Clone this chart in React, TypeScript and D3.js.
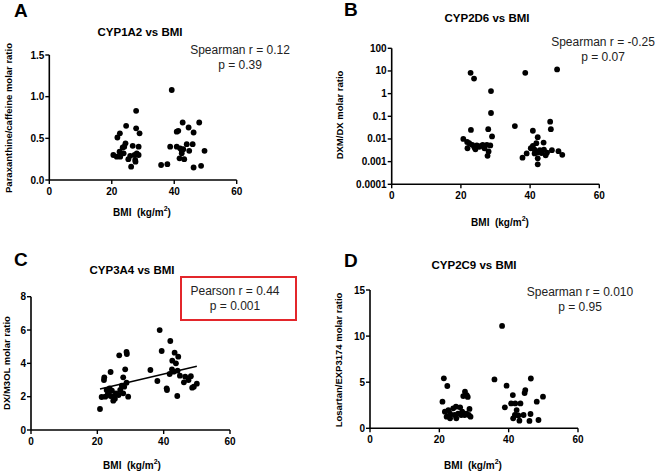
import React from "react";
import * as d3 from "d3";

// ---------- data ----------
const xTicks = [0, 20, 40, 60];

const aBmi = [27.8, 24.6, 27.8, 22.6, 21.8, 28.9, 24.4, 24.0, 23.5, 26.7, 28.6, 20.5, 21.6, 22.7, 22.5, 23.8, 25.3, 26.2, 27.5, 27.3, 28.0, 28.6, 27.6, 25.9,
  39.2, 35.8, 37.8, 38.7, 40.8, 41.3, 42.7, 44.6, 46.2, 48.0, 40.8, 41.9, 42.4, 42.4, 44.0, 45.9, 44.8, 41.7, 43.2, 46.2, 48.6, 49.7, 42.9];
const aVal = [0.83, 0.65, 0.62, 0.56, 0.51, 0.56, 0.44, 0.40, 0.39, 0.41, 0.40, 0.30, 0.28, 0.28, 0.34, 0.32, 0.25, 0.16, 0.24, 0.30, 0.32, 0.30, 0.22, 0.29,
  1.08, 0.18, 0.19, 0.40, 0.58, 0.59, 0.69, 0.63, 0.57, 0.69, 0.40, 0.38, 0.35, 0.32, 0.43, 0.43, 0.35, 0.26, 0.25, 0.15, 0.17, 0.35, 0.37];
const aYTicks = [0, 0.5, 1.0, 1.5];
const aYTickLabels = ["0.0", "0.5", "1.0", "1.5"];

const bBmi = [22.8, 23.8, 28.7, 28.7, 22.9, 27.9, 29.0, 20.7, 21.8, 22.4, 23.3, 21.9, 23.9, 24.6, 25.3, 26.3, 26.8, 27.5, 28.5, 28.0, 27.7, 24.2, 25.8,
  38.6, 47.8, 35.6, 45.8, 46.0, 40.8, 42.2, 41.8, 43.9, 40.8, 40.2, 37.8, 39.0, 41.3, 42.1, 42.8, 43.3, 44.0, 44.5, 42.2, 42.2, 46.3, 48.2, 49.3, 44.9, 41.3];
const bVal = [8.3, 4.6, 1.3, 0.14, 0.025, 0.027, 0.013, 0.010, 0.0074, 0.0065, 0.0055, 0.0039, 0.0043, 0.0052, 0.0045, 0.0055, 0.0039, 0.0055, 0.0052, 0.0028, 0.0018, 0.0035, 0.005,
  8.3, 11.7, 0.037, 0.058, 0.027, 0.023, 0.012, 0.0065, 0.0069, 0.0049, 0.0039, 0.0015, 0.0023, 0.0023, 0.0025, 0.0032, 0.0024, 0.0034, 0.0019, 0.0014, 0.00076, 0.0032, 0.0029, 0.002, 0.0025, 0.0034];
const bYTicks = [0.0001, 0.001, 0.01, 0.1, 1, 10, 100];
const bYTickLabels = ["0.0001", "0.001", "0.01", "0.1", "1", "10", "100"];

const cBmi = [38.8, 42.0, 39.4, 43.3, 44.4, 42.6, 43.7, 36.0, 42.5, 43.0, 44.2, 41.8, 44.9, 46.5, 48.2, 47.5, 46.1, 38.1, 40.9, 41.0, 44.1, 49.1, 50.0, 48.6,
  28.8, 28.9, 26.6, 28.4, 24.0, 22.1, 22.0, 27.8, 20.8, 21.3, 22.4, 22.8, 23.7, 23.2, 24.4, 25.0, 24.0, 24.8, 25.3, 26.9, 27.4, 28.1, 27.8, 28.8, 29.3, 25.6, 26.4];
const cVal = [6.0, 5.34, 4.74, 4.64, 4.4, 4.16, 4.0, 3.6, 3.64, 3.5, 3.56, 3.36, 3.26, 3.2, 3.23, 3.0, 2.86, 2.94, 2.5, 2.4, 2.04, 2.6, 2.78, 2.54,
  4.68, 4.56, 4.48, 3.64, 3.48, 3.16, 3.0, 3.16, 1.26, 1.98, 2.0, 2.4, 2.5, 2.2, 2.36, 2.0, 2.04, 1.76, 1.88, 2.4, 2.66, 2.6, 2.2, 2.84, 2.0, 2.2, 2.1];
const cYTicks = [0, 2, 4, 6, 8];
const cFitIntercept = 1.49;
const cFitSlope = 0.0467;

const dBmi = [38.1, 21.3, 22.3, 20.9, 35.9, 39.4, 46.4, 44.8, 44.6, 49.9, 48.1, 41.2, 38.9, 40.7, 41.9, 43.4, 42.3, 41.8, 42.8, 41.3, 43.1, 44.3, 46.0, 46.3, 48.6,
  27.4, 27.9, 28.2, 26.9, 21.6, 22.6, 23.1, 23.1, 24.0, 24.8, 24.9, 25.4, 26.0, 26.6, 27.3, 27.8, 28.5, 28.7, 24.4, 26.3, 22.1, 29.0];
const dVal = [11.1, 5.42, 4.59, 2.89, 5.3, 4.62, 5.4, 4.15, 3.83, 3.43, 2.89, 3.6, 2.27, 2.7, 2.7, 2.7, 1.98, 1.44, 1.4, 1.08, 0.83, 1.44, 0.8, 1.55, 0.9,
  3.97, 3.6, 3.4, 3.5, 1.8, 1.98, 1.6, 1.08, 2.17, 2.35, 1.08, 1.6, 2.27, 1.8, 1.44, 1.6, 1.44, 2.1, 1.44, 1.44, 1.26, 1.26];
const dYTicks = [0, 5, 10, 15];

// ---------- drawing ----------
const FONT = "Arial, 'Liberation Sans', Helvetica, sans-serif";

type PanelProps = {
  letter: string; letterX: number; letterY: number;
  title: string; titleX: number; titleY: number;
  ylabel: string; ylabelX: number; ylabelY: number;
  xlabelX: number; xlabelY: number;
  xLeft: number; xRight: number; yBottom: number; yTop: number;
  log?: boolean; yDomain: [number, number];
  yTicks: number[]; yTickLabels: string[];
  xs: number[]; ys: number[];
  stat: string[]; statX: number; statY: number;
  fit?: { a: number; b: number };
  box?: { x: number; y: number; w: number; h: number };
};

function Panel(p: PanelProps) {
  const x = d3.scaleLinear().domain([0, 60]).range([p.xLeft, p.xRight]);
  const y = p.log
    ? d3.scaleLog().domain(p.yDomain).range([p.yBottom, p.yTop])
    : d3.scaleLinear().domain(p.yDomain).range([p.yBottom, p.yTop]);
  let fitLine: string | null = null;
  if (p.fit) {
    const [mn, mx] = d3.extent(p.xs) as [number, number];
    const line = d3.line<number>().x((v) => x(v)).y((v) => y(p.fit!.a + p.fit!.b * v));
    fitLine = line([mn, mx]);
  }
  return (
    <g fontFamily={FONT}>
      <text x={p.letterX} y={p.letterY} fontSize={19} fontWeight="bold">{p.letter}</text>
      <text x={p.titleX} y={p.titleY} fontSize={11.5} fontWeight="bold" textAnchor="middle" dominantBaseline="central">{p.title}</text>
      {p.box && (
        <rect x={p.box.x} y={p.box.y} width={p.box.w} height={p.box.h} fill="none" stroke="#e3262b" strokeWidth={2} />
      )}
      {p.stat.map((s, i) => (
        <text key={i} x={p.statX} y={p.statY + i * 15} fontSize={12} textAnchor="middle" dominantBaseline="central" fill="#222">{s}</text>
      ))}
      {/* axes */}
      <line x1={p.xLeft} x2={p.xRight} y1={p.yBottom} y2={p.yBottom} stroke="#000" strokeWidth={1.6} />
      <line x1={p.xLeft} x2={p.xLeft} y1={p.yBottom} y2={p.yTop} stroke="#000" strokeWidth={1.6} />
      {xTicks.map((t) => (
        <g key={"x" + t}>
          <line x1={x(t)} x2={x(t)} y1={p.yBottom} y2={p.yBottom + 4} stroke="#000" strokeWidth={1.4} />
          <text x={x(t)} y={p.yBottom + 11} fontSize={10} fontWeight="bold" textAnchor="middle" dominantBaseline="central">{t}</text>
        </g>
      ))}
      {p.yTicks.map((t, i) => (
        <g key={"y" + i}>
          <line x1={p.xLeft - 4} x2={p.xLeft} y1={y(t)} y2={y(t)} stroke="#000" strokeWidth={1.4} />
          <text x={p.xLeft - 5} y={y(t)} fontSize={10} fontWeight="bold" textAnchor="end" dominantBaseline="central">{p.yTickLabels[i]}</text>
        </g>
      ))}
      <text transform={`translate(${p.ylabelX},${p.ylabelY}) rotate(-90)`} fontSize={9.5} fontWeight="bold" textAnchor="middle" dominantBaseline="central">{p.ylabel}</text>
      <text x={p.xlabelX} y={p.xlabelY} fontSize={10} fontWeight="bold" textAnchor="middle" dominantBaseline="central" style={{ whiteSpace: "pre" }}>
        <tspan>{"BMI  (kg/m"}</tspan>
        <tspan fontSize={7} dy={-4}>2</tspan>
        <tspan dy={4}>)</tspan>
      </text>
      {p.xs.map((v, i) => (
        <circle key={i} cx={x(v)} cy={y(p.ys[i])} r={2.9} fill="#000" />
      ))}
      {fitLine && <path d={fitLine} fill="none" stroke="#000" strokeWidth={1.5} />}
    </g>
  );
}

export default function App() {
  return (
    <svg width={658} height={471} style={{ position: "absolute", left: 0, top: 0, background: "#fff" }}>
      <rect width={658} height={471} fill="#fff" />
      <Panel letter="A" letterX={14} letterY={17} title="CYP1A2 vs BMI" titleX={140} titleY={32}
        ylabel="Paraxanthine/caffeine molar ratio" ylabelX={8} ylabelY={118}
        xlabelX={142} xlabelY={212}
        xLeft={49.3} xRight={236.7} yBottom={180} yTop={55} yDomain={[0, 1.5]}
        yTicks={aYTicks} yTickLabels={aYTickLabels} xs={aBmi} ys={aVal}
        stat={["Spearman r = 0.12", "p = 0.39"]} statX={240} statY={50} />
      <Panel letter="B" letterX={344} letterY={16} title="CYP2D6 vs BMI" titleX={487} titleY={18}
        ylabel="DXM/DX molar ratio" ylabelX={339} ylabelY={115}
        xlabelX={500} xlabelY={222}
        xLeft={391.7} xRight={599.3} yBottom={184.3} yTop={48.3} log yDomain={[0.0001, 100]}
        yTicks={bYTicks} yTickLabels={bYTickLabels} xs={bBmi} ys={bVal}
        stat={["Spearman r = -0.25", "p = 0.07"]} statX={603} statY={42} />
      <Panel letter="C" letterX={14} letterY={266} title="CYP3A4 vs BMI" titleX={132} titleY={270}
        ylabel="DX/M3OL molar ratio" ylabelX={6} ylabelY={363}
        xlabelX={132} xlabelY={465}
        xLeft={31} xRight={230} yBottom={430} yTop={296.7} yDomain={[0, 8]}
        yTicks={cYTicks} yTickLabels={cYTicks.map(String)} xs={cBmi} ys={cVal}
        stat={["Pearson r = 0.44", "p = 0.001"]} statX={235} statY={291}
        fit={{ a: cFitIntercept, b: cFitSlope }}
        box={{ x: 181, y: 277, w: 115, h: 43 }} />
      <Panel letter="D" letterX={344} letterY={267} title="CYP2C9 vs BMI" titleX={474} titleY={265}
        ylabel="Losartan/EXP3174 molar ratio" ylabelX={338} ylabelY={360}
        xlabelX={473} xlabelY={465}
        xLeft={370} xRight={578} yBottom={428.3} yTop={290} yDomain={[0, 15]}
        yTicks={dYTicks} yTickLabels={dYTicks.map(String)} xs={dBmi} ys={dVal}
        stat={["Spearman r = 0.010", "p = 0.95"]} statX={580} statY={292} />
    </svg>
  );
}
